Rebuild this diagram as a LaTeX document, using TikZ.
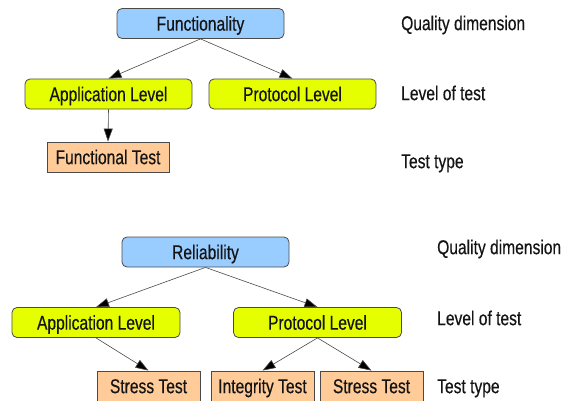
\documentclass[tikz,border=0pt]{standalone}
\usepackage{fontspec}
\setmainfont{Liberation Sans}[FakeStretch=0.78,FakeBold=0.4]
\usetikzlibrary{arrows.meta}
\definecolor{dimblue}{HTML}{99CCFF}
\definecolor{levelyellow}{HTML}{E6FF00}
\definecolor{testpeach}{HTML}{FFCC99}
\definecolor{edgegray}{HTML}{4A4A4A}
\definecolor{inkblack}{HTML}{141414}
\tikzset{
  box/.style={draw=edgegray, line width=0.8pt, minimum height=30pt, inner sep=0pt,
    text height=14.3pt, text depth=0pt, text=inkblack, font=\fontsize{20}{22}\selectfont},
  dimbox/.style={box, fill=dimblue, rounded corners=5pt, minimum width=167pt},
  levelbox/.style={box, fill=levelyellow, rounded corners=5pt, minimum width=167pt},
  testbox/.style={box, fill=testpeach},
  rowlabel/.style={anchor=west, inner sep=0pt, text height=14.3pt, text depth=0pt,
    text=inkblack, font=\fontsize{20}{22}\selectfont},
  link/.style={draw=edgegray, line width=0.6pt, -{Triangle[length=13pt,width=9pt,fill=black]}}
}
\begin{document}
\begin{tikzpicture}[x=1pt,y=-1pt]
  \useasboundingbox (0,0) rectangle (568,401);

  % Functionality tree
  \node[dimbox] (func) at (200.5,23.5) {Functionality};
  \node[levelbox] (fapp) at (108.5,94) {Application Level};
  \node[levelbox] (fproto) at (292.5,94) {Protocol Level};
  \node[testbox, minimum width=122pt] (ftest) at (108,157) {Functional Test};

  \node[rowlabel] (fq) at (401,23) {Quality dimension};
  \node[rowlabel] (fl) at (401,93) {Level of test};
  \node[rowlabel] (ft) at (401,161) {Test type};

  \draw[link] (func.south) -- (fapp.north);
  \draw[link] (func.south) -- (fproto.north);
  \draw[link] (fapp.south) -- (ftest.north);

  % Reliability tree
  \node[dimbox] (rel) at (205.5,252) {Reliability};
  \node[levelbox, minimum width=168pt] (rapp) at (96,322.5) {Application Level};
  \node[levelbox, minimum width=168pt] (rproto) at (317.5,322.5) {Protocol Level};
  \node[testbox, minimum width=103pt] (rstress) at (148.5,386) {Stress Test};
  \node[testbox, minimum width=103pt] (rinteg) at (262.5,386) {Integrity Test};
  \node[testbox, minimum width=103pt] (rstress2) at (371.5,386) {Stress Test};

  \node[rowlabel] (rq) at (437,247) {Quality dimension};
  \node[rowlabel] (rl) at (437,318) {Level of test};
  \node[rowlabel] (rt) at (437,386) {Test type};

  \draw[link] (rel.south) -- (rapp.north);
  \draw[link] (rel.south) -- (rproto.north);
  \draw[link] (rapp.south) -- (rstress.north);
  \draw[link] (rproto.south) -- (rinteg.north);
  \draw[link] (rproto.south) -- (rstress2.north);
\end{tikzpicture}
\end{document}
